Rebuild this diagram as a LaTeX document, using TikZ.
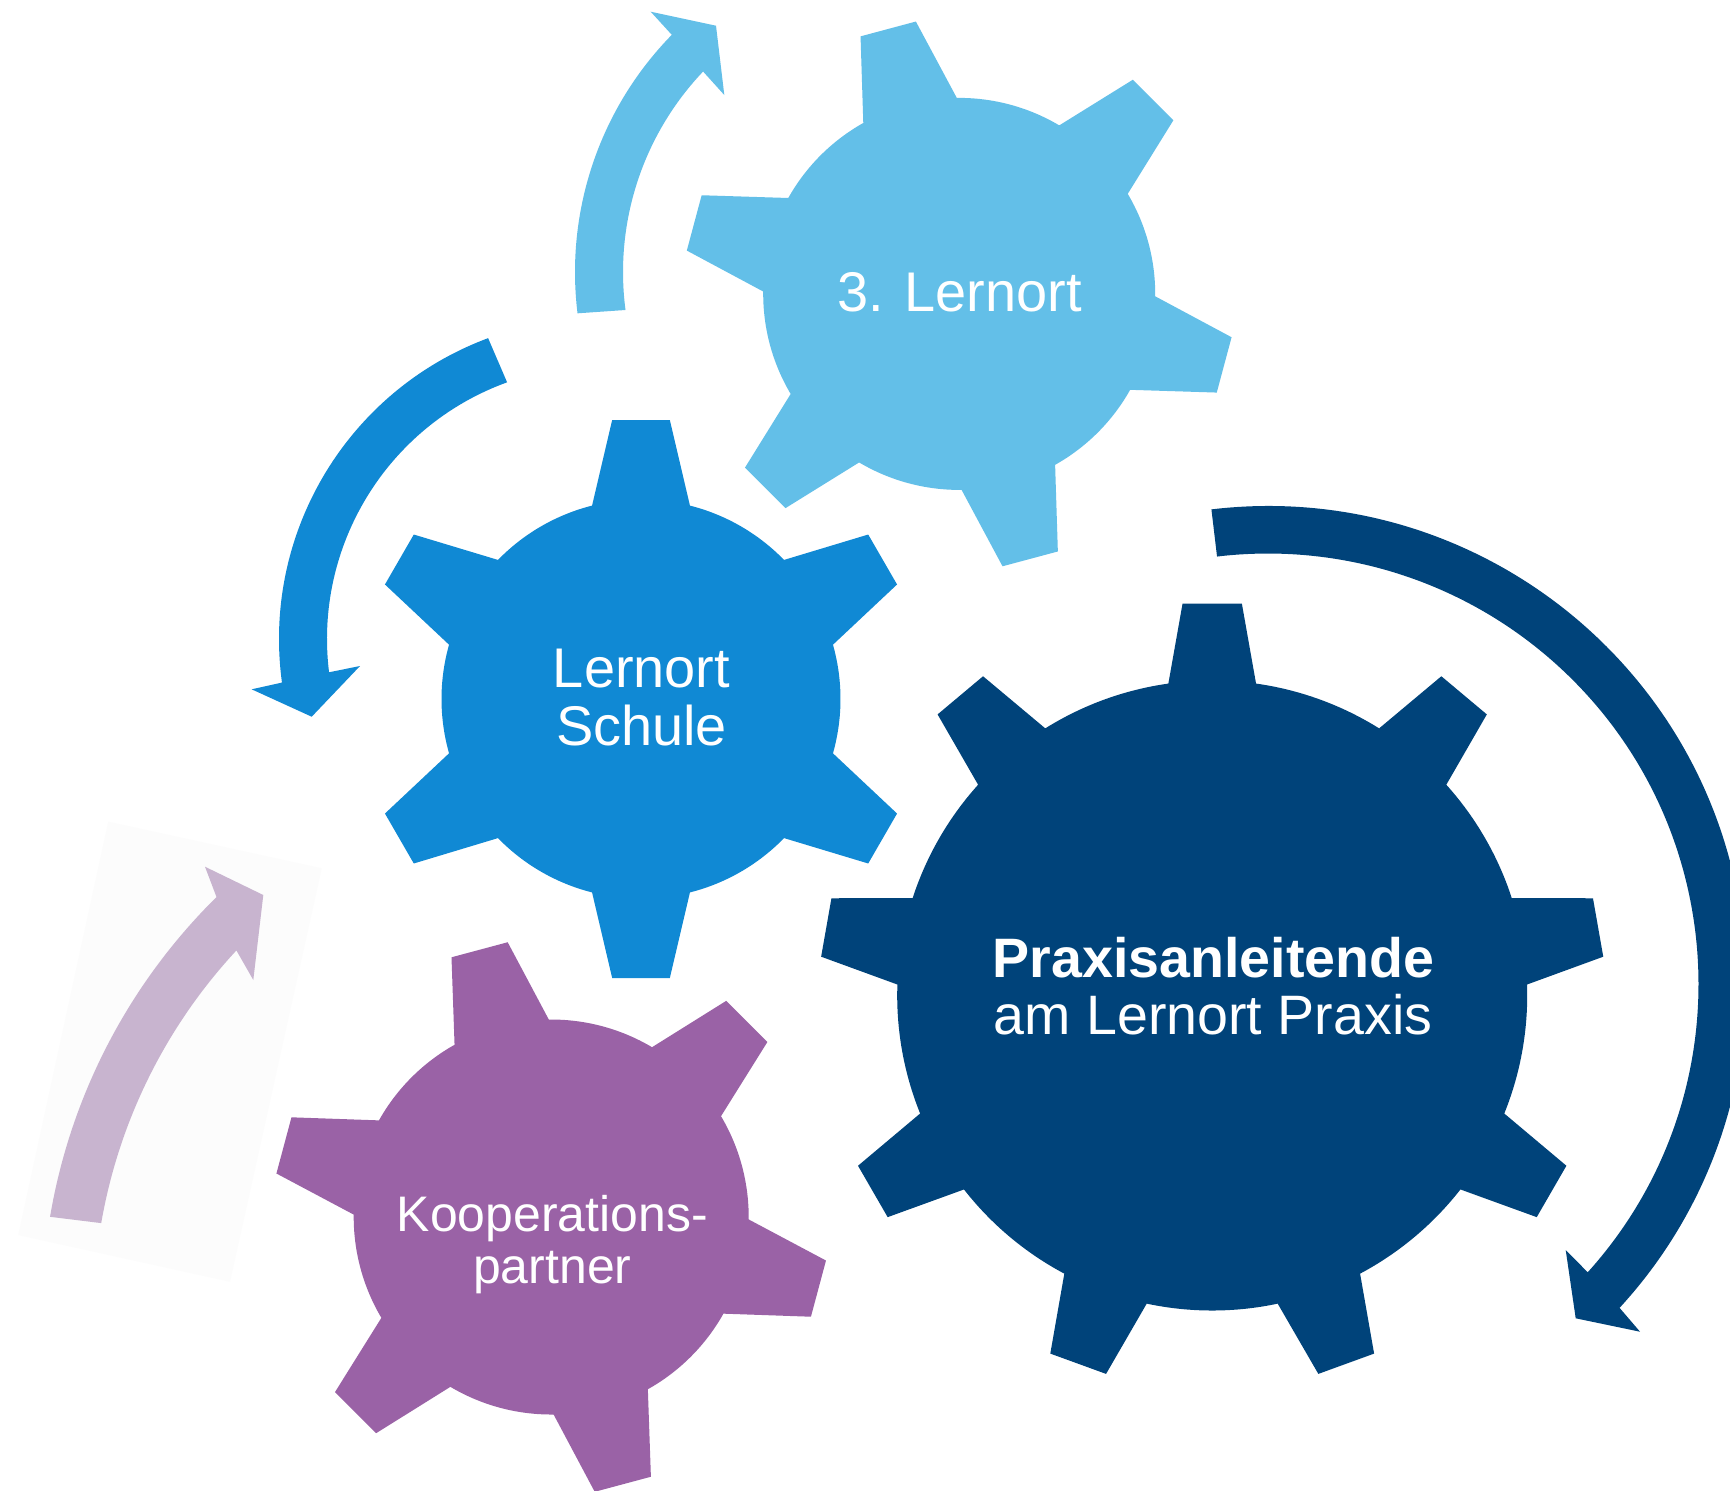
\documentclass[tikz,border=0pt]{standalone}
\usepackage{fontspec}
\setmainfont{Liberation Sans}
\usetikzlibrary{calc}
\definecolor{cSchule}{RGB}{16,137,212}
\definecolor{cLern}{RGB}{99,191,232}
\definecolor{cNavy}{RGB}{0,67,122}
\definecolor{cPurple}{RGB}{154,98,166}
\definecolor{cLav}{RGB}{200,180,207}
\definecolor{cFaint}{RGB}{252,252,252}
\newcommand{\gearshape}[8]{%
  \begin{scope}[shift={#2}]
  \pgfmathsetmacro{\gstep}{360/#5}
  \fill[#1] ({#6-#8}:#4) \foreach \gi in {1,...,#5}{
     -- ({#6+(\gi-1)*\gstep-#7}:#3) -- ({#6+(\gi-1)*\gstep+#7}:#3)
     -- ({#6+(\gi-1)*\gstep+#8}:#4)
     arc[start angle={#6+(\gi-1)*\gstep+#8}, end angle={#6+\gi*\gstep-#8}, radius=#4]
  } -- cycle;
  \end{scope}
}
\tikzset{
  gtext/.style={text=white, inner sep=0pt, anchor=base},
  fbig/.style={font=\fontsize{15.9}{19}\selectfont},
  fsmall/.style={font=\fontsize{14.2}{17}\selectfont},
}
\begin{document}
\begin{tikzpicture}[x=0.01cm, y=-0.01cm]
\clip (0,0) rectangle (1730,1490);
\fill[white] (0,0) rectangle (1730,1490);

% faint backdrop behind the lavender arrow
\fill[cFaint] (108.3,821.7) -- (321.7,868.3) -- (230,1281.7) -- (18.3,1235) -- cycle;

% lavender arrow
\coordinate (cD) at (628.3,1314.6);
\fill[cLav] ($(cD)+(189.6:586.5)$) arc[start angle=189.6, end angle=225.4, radius=586.5]
  -- (205,866.7) -- (263.3,895) -- (253.3,980)
  -- ($(cD)+(222.9:535)$) arc[start angle=222.9, end angle=189.85, radius=535] -- cycle;

% light blue arrow
\coordinate (cA) at (914,272);
\fill[cLern] ($(cA)+(173:339)$) arc[start angle=173, end angle=224.4, radius=339]
  -- (650.7,11.7) -- (716,25.7) -- (724.3,95)
  -- ($(cA)+(223.55:291)$) arc[start angle=223.55, end angle=172.5, radius=291] -- cycle;

% blue arrow
\coordinate (cB) at (600,639);
\fill[cSchule] ($(cB)+(249.6:321)$) arc[start angle=249.6, end angle=172.2, radius=321]
  -- (251.7,689.3) -- (311.7,716.7) -- (360,666)
  -- ($(cB)+(173:273)$) arc[start angle=173, end angle=250.1, radius=273] -- cycle;

% navy arrow
\coordinate (cC) at (1268,984);
\fill[cNavy] ($(cC)+(-96.8:478)$) arc[start angle=-96.8, end angle=42.65, radius=478]
  -- (1640,1331.7) -- (1575.7,1318.3) -- (1565.7,1250)
  -- ($(cC)+(42.04:430.5)$) arc[start angle=42.04, end angle=-96.8, radius=430.5] -- cycle;

% gears
\gearshape{cLern}{(959.2,293.9)}{275.8}{196}{6}{255}{5.96}{14.3}
\gearshape{cSchule}{(641,699)}{280.5}{199.5}{6}{270}{5.9}{14.2}
\gearshape{cPurple}{(551.2,1217)}{278.2}{197.5}{6}{255}{6}{14.3}
\gearshape{cNavy}{(1212.2,995.5)}{393}{315}{9}{270}{4.33}{8}

% texts
\node[gtext, fbig] (t3) at (959.6,311.9) {3. Lernort};
\node[gtext, fbig] (ts1) at (641.5,687.6) {Lernort};
\node[gtext, fbig] (ts2) at (641.5,745) {Schule};
\node[gtext, fsmall] (tk1) at (552.3,1231.5) {Kooperations-};
\node[gtext, fsmall] (tk2) at (552.3,1283.5) {partner};
\node[gtext, font=\fontsize{15.8}{19}\selectfont\bfseries] (tp1) at (1213.5,977.1) {Praxisanleitende};
\node[gtext, font=\fontsize{15.8}{19}\selectfont] (tp2) at (1213,1034.5) {am Lernort Praxis};
\end{tikzpicture}
\end{document}
